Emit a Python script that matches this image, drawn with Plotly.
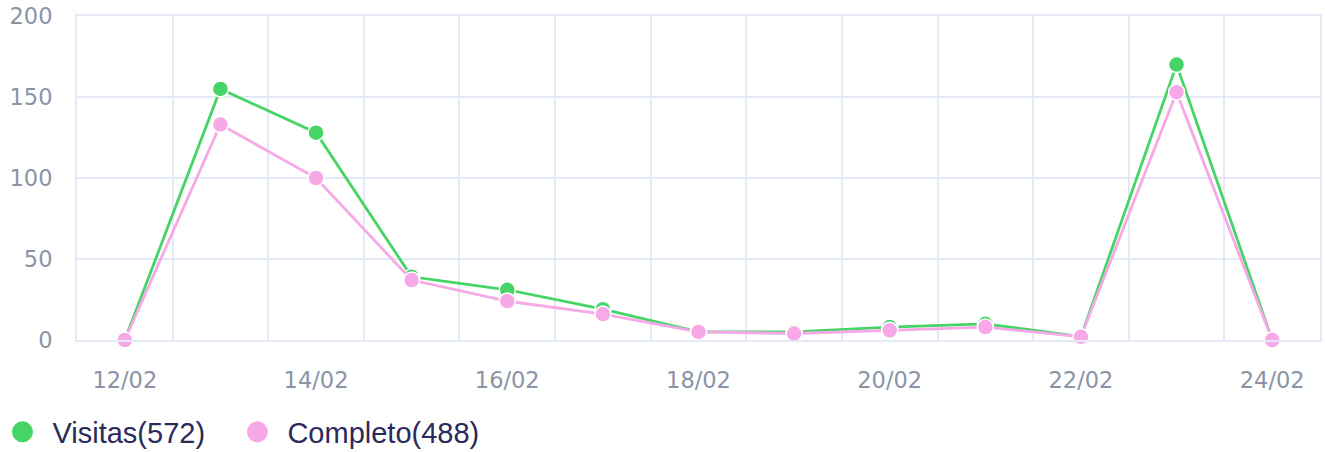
import plotly.graph_objects as go

dates = ["12/02", "13/02", "14/02", "15/02", "16/02", "17/02", "18/02",
         "19/02", "20/02", "21/02", "22/02", "23/02", "24/02"]
visitas = [0, 155, 128, 39, 31, 19, 5, 5, 8, 10, 2, 170, 0]
completo = [0, 133, 100, 37, 24, 16, 5, 4, 6, 8, 2, 153, 0]
y_ticks = [0, 50, 100, 150, 200]

GREEN = "#47D466"
PINK = "#F6A8E7"
GRID = "#E3E9F6"
TICK = "#8A94A6"
LEGTXT = "#2B2A5C"

xs = list(range(len(dates)))
fig = go.Figure()

for name, vals, col in [("Visitas", visitas, GREEN), ("Completo", completo, PINK)]:
    fig.add_trace(go.Scatter(
        x=xs, y=vals, mode="lines+markers", name=name, showlegend=False,
        line=dict(color=col, width=2.8),
        marker=dict(size=16, color=col, line=dict(color="white", width=1.5)),
        cliponaxis=False, hoverinfo="skip"))

for name, vals, col, leg in [("Visitas", visitas, GREEN, "legend"),
                             ("Completo", completo, PINK, "legend2")]:
    fig.add_trace(go.Scatter(
        x=[None], y=[None], mode="markers", name=f"{name}({sum(vals)})",
        legend=leg,
        marker=dict(size=16, color=col, line=dict(color=col, width=5))))

leg_common = dict(
    orientation="h", xanchor="left", y=-0.284, yanchor="middle",
    font=dict(family="Liberation Sans, Arial", size=29, color=LEGTXT),
    itemclick=False, itemwidth=50, bgcolor="rgba(0,0,0,0)",
)

fig.update_layout(
    width=1325, height=452,
    margin=dict(l=77, r=5, t=16, b=112, autoexpand=False),
    paper_bgcolor="white", plot_bgcolor="white",
    xaxis=dict(
        range=[-0.5, len(dates) - 0.5], automargin=False,
        tickmode="array", tickvals=xs[::2], ticktext=dates[::2],
        showgrid=False, zeroline=False,
        showline=True, linecolor=GRID, linewidth=2, mirror=True,
        minor=dict(tickmode="array",
                   tickvals=[i - 0.5 for i in range(len(dates) + 1)],
                   showgrid=True, gridcolor=GRID, gridwidth=2),
        tickfont=dict(family="DejaVu Sans", size=22.5, color=TICK),
        ticks="", ticklabelstandoff=19,
    ),
    yaxis=dict(
        range=[0, 200], tickmode="array", tickvals=y_ticks, automargin=False,
        showgrid=True, gridcolor=GRID, gridwidth=2, zeroline=False,
        showline=True, linecolor=GRID, linewidth=2, mirror=True,
        tickfont=dict(family="DejaVu Sans", size=22.5, color=TICK),
        ticks="", ticklabelstandoff=18,
    ),
    legend=dict(x=-0.068, **leg_common),
    legend2=dict(x=0.121, **leg_common),
)

fig.write_html("out.html", config={"displayModeBar": False},
               post_script="document.body.style.margin='0';")
